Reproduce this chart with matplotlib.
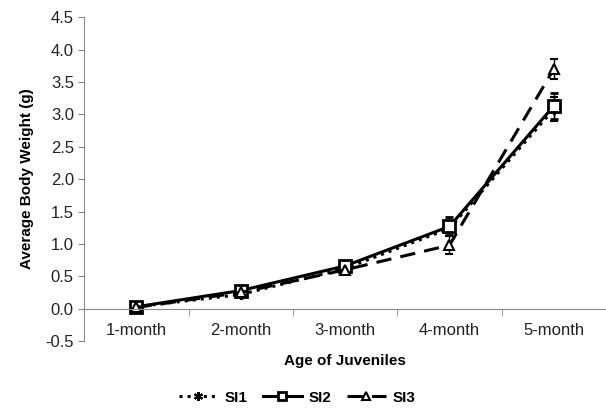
import matplotlib
matplotlib.use('Agg')
import matplotlib.pyplot as plt

plt.rcParams['font.family'] = ['Liberation Sans', 'DejaVu Sans']

ages = ['1-month', '2-month', '3-month', '4-month', '5-month']
si1 = [0.03, 0.22, 0.62, 1.24, 3.08]
si2 = [0.03, 0.28, 0.66, 1.27, 3.13]
si3 = [0.02, 0.25, 0.60, 0.98, 3.70]
si1_err = [0.03, 0.06, 0.05, 0.12, 0.18]
si2_err = [0.03, 0.05, 0.05, 0.14, 0.20]
si3_err = [0.03, 0.05, 0.05, 0.14, 0.15]

fig = plt.figure(figsize=(6.06, 4.08), dpi=100)
ax = fig.add_axes([0.139, 0.164, 0.861, 0.794])
x = range(len(ages))

e1 = ax.errorbar(x, si1, yerr=si1_err, color='black', linestyle=':', linewidth=2.2,
                 marker=(6, 2, 0), markersize=8, markeredgewidth=1.5, capsize=3,
                 elinewidth=1, label='SI1')
e2 = ax.errorbar(x, si2, yerr=si2_err, color='black', linestyle='-', linewidth=2.2,
                 marker='s', markersize=8, markerfacecolor='white', markeredgewidth=2,
                 capsize=3, elinewidth=1, label='SI2')
e3 = ax.errorbar(x, si3, yerr=si3_err, color='black', linestyle=(0, (5, 3)), linewidth=2.2,
                 marker='^', markersize=7, markeredgewidth=1.5, markerfacecolor='white',
                 capsize=3, elinewidth=1, label='SI3')

ax.set_xlim(-0.5, 4.5)
ax.set_ylim(-0.5, 4.5)
ax.set_yticks([-0.5, 0, 0.5, 1, 1.5, 2, 2.5, 3, 3.5, 4, 4.5])
ax.set_yticklabels(['%.1f' % v for v in ax.get_yticks()])
ax.set_xticks(list(x))
ax.set_xticklabels(ages)
ax.tick_params(axis='x', length=0, labelsize=12, pad=10, labelcolor='#222222')
ax.tick_params(axis='y', length=4, color='#888888', labelsize=12, labelcolor='#222222')
ax.set_xticks([0.5, 1.5, 2.5, 3.5], minor=True)
ax.tick_params(axis='x', which='minor', length=5, color='#888888', direction='out')

for s in ['top', 'right']:
    ax.spines[s].set_visible(False)
ax.spines['left'].set_color('#888888')
ax.spines['bottom'].set_position(('data', 0))
ax.spines['bottom'].set_color('#888888')

ax.set_xlabel('Age of Juveniles', fontsize=11, fontweight='bold', labelpad=12)
ax.set_ylabel('Average Body Weight (g)', fontsize=11, fontweight='bold', labelpad=8)

# legend without the error bars in the handles
leg = fig.legend([e1[0], e2[0], e3[0]], ['SI1', 'SI2', 'SI3'], loc='center',
                 bbox_to_anchor=(0.49, 0.025), ncol=3, frameon=False, fontsize=11,
                 handlelength=2.6, handletextpad=0.4, columnspacing=1.0,
                 markerscale=0.8)
for t in leg.get_texts():
    t.set_fontweight('bold')

fig.savefig('out.png', dpi=100)
